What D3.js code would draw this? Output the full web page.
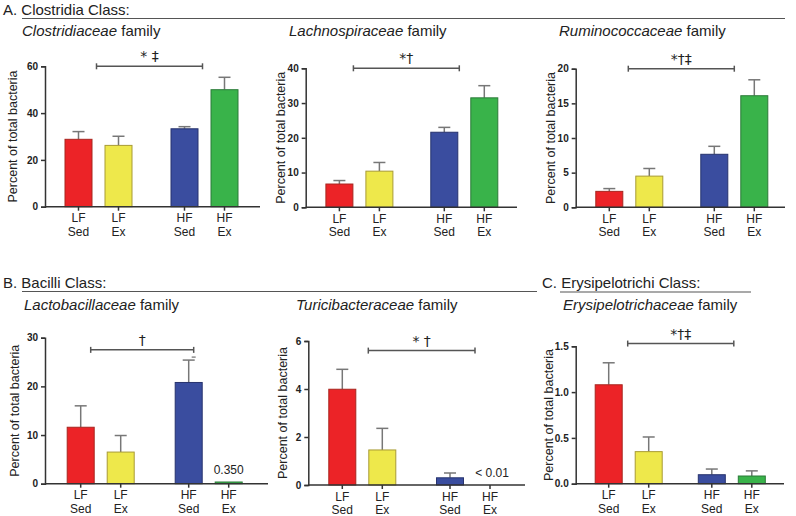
<!DOCTYPE html>
<html>
<head>
<meta charset="utf-8">
<script src="https://d3js.org/d3.v7.min.js"></script>
<style>
  body { margin: 0; background: #fff; }
  text { font-family: "Liberation Sans", Arial, Helvetica, sans-serif; fill: #222; }
</style>
</head>
<body>
<script>
// groups on the x axis
const dietGroups = ["LF", "HF"]
const activityGroups = ["Sed", "Ex"]
const barColors = ["#ec2327", "#eee84b", "#3a4d9f", "#39b34a"]
const barEdges = ["#a8261f", "#a89b35", "#27336e", "#2b7a38"]

// means and SEM, in LF Sed, LF Ex, HF Sed, HF Ex order
const clostridiaceaeMean = [28.8, 26.2, 33.3, 50.0]
const clostridiaceaeSem = [3.3, 3.9, 0.9, 5.3]
const lachnospiraceaeMean = [6.7, 10.4, 21.6, 31.5]
const lachnospiraceaeSem = [1.0, 2.5, 1.4, 3.5]
const ruminococcaceaeMean = [2.3, 4.5, 7.65, 16.1]
const ruminococcaceaeSem = [0.4, 1.1, 1.15, 2.3]
const lactobacillaceaeMean = [11.6, 6.5, 20.8, 0.35]
const lactobacillaceaeSem = [4.4, 3.4, 4.6, 0]
const turicibacteraceaeMean = [3.99, 1.46, 0.30, 0]
const turicibacteraceaeSem = [0.83, 0.9, 0.2, 0]
const erysipelotrichaceaeMean = [1.08, 0.35, 0.098, 0.084]
const erysipelotrichaceaeSem = [0.24, 0.16, 0.062, 0.056]

// y axis ticks
const clostridiaceaeTicks = [0, 20, 40, 60]
const lachnospiraceaeTicks = [0, 10, 20, 30, 40]
const ruminococcaceaeTicks = [0, 5, 10, 15, 20]
const lactobacillaceaeTicks = [0, 10, 20, 30]
const turicibacteraceaeTicks = [0, 2, 4, 6]
const erysipelotrichaceaeTicks = [0, 0.5, 1.0, 1.5]

// significance marks
const sigSymbols = ["* \u2021", "*\u2020", "*\u2020\u2021", "\u2020", "* \u2020", "*\u2020\u2021"]
const sigLevels = [60, 40, 20, 27.5, 5.6, 1.53]

const width = 796, height = 516
const svg = d3.select("body").append("svg")
  .attr("width", width)
  .attr("height", height)

// section headers
const headers = [
  {label: "A. Clostridia Class:", x: 3, y: 15, lineX: [22, 785], lineY: 18.5},
  {label: "B. Bacilli Class:", x: 3, y: 288, lineX: [22, 537], lineY: 291.5},
  {label: "C. Erysipelotrichi Class:", x: 542, y: 288, lineX: [560, 751], lineY: 292}
]
headers.forEach(h => {
  svg.append("text").attr("x", h.x).attr("y", h.y)
    .style("font-size", "15px").text(h.label)
  svg.append("line")
    .attr("x1", h.lineX[0]).attr("x2", h.lineX[1])
    .attr("y1", h.lineY).attr("y2", h.lineY)
    .attr("stroke", "#555").attr("stroke-width", 1.2)
})

const panels = [
  {name: "Clostridiaceae", mean: clostridiaceaeMean, sem: clostridiaceaeSem, ticks: clostridiaceaeTicks,
   x0: 45, xEnd: 260, yTop: 66.3, yBot: 206.7, lf: 98.5, hf: 204.5, tx: 22, ty: 36, labX: -32, sigDx: [-2, -2]},
  {name: "Lachnospiraceae", mean: lachnospiraceaeMean, sem: lachnospiraceaeSem, ticks: lachnospiraceaeTicks,
   x0: 305.7, xEnd: 517, yTop: 68.3, yBot: 207.3, lf: 359.4, hf: 464.3, tx: 289, ty: 36, labX: -25, sigDx: [-6, -5]},
  {name: "Ruminococcaceae", mean: ruminococcaceaeMean, sem: ruminococcaceaeSem, ticks: ruminococcaceaeTicks,
   x0: 575.7, xEnd: 785, yTop: 68.7, yBot: 207.3, lf: 629.3, hf: 734.3, tx: 559, ty: 36, labX: -25, sigDx: [-1, 0]},
  {name: "Lactobacillaceae", mean: lactobacillaceaeMean, sem: lactobacillaceaeSem, ticks: lactobacillaceaeTicks,
   x0: 45, xEnd: 268, yTop: 337.7, yBot: 483.7, lf: 100.7, hf: 208.7, tx: 24, ty: 310, labX: -30, sigDx: [-10, -15]},
  {name: "Turicibacteraceae", mean: turicibacteraceaeMean, sem: turicibacteraceaeSem, ticks: turicibacteraceaeTicks,
   x0: 308.3, xEnd: 525, yTop: 341, yBot: 485, lf: 362.3, hf: 470, tx: 296, ty: 310, labX: -26, sigDx: [6, 5]},
  {name: "Erysipelotrichaceae", mean: erysipelotrichaceaeMean, sem: erysipelotrichaceaeSem, ticks: erysipelotrichaceaeTicks,
   x0: 575.7, xEnd: 784, yTop: 346.3, yBot: 483.7, lf: 628.7, hf: 731.8, tx: 563, ty: 310, labX: -27, sigDx: [-1, 2]}
]

panels.forEach((p, i) => {
  const g = svg.append("g")

  // title
  const t = g.append("text").attr("x", p.tx).attr("y", p.ty).style("font-size", "15px")
  t.append("tspan").style("font-style", "italic").text(p.name)
  t.append("tspan").text(" family")

  const rows = p.mean.map((m, j) => ({
    diet: dietGroups[Math.floor(j / 2)],
    act: activityGroups[j % 2],
    mean: m, sem: p.sem[j], j: j
  }))

  const y = d3.scaleLinear()
    .domain([0, d3.max(p.ticks)])
    .range([p.yBot, p.yTop])
  const outer = d3.scalePoint().domain(dietGroups).range([p.lf, p.hf])
  const inner = d3.scaleBand().domain(activityGroups).range([-33.5, 33.5]).paddingInner(0.325)
  const cx = d => outer(d.diet) + inner(d.act) + inner.bandwidth() / 2

  // error bars (upper whisker only)
  rows.filter(d => d.sem > 0).forEach(d => {
    g.append("line").attr("x1", cx(d)).attr("x2", cx(d))
      .attr("y1", y(d.mean)).attr("y2", y(d.mean + d.sem))
      .attr("stroke", "#777").attr("stroke-width", 1.5)
    g.append("line").attr("x1", cx(d) - 6).attr("x2", cx(d) + 6)
      .attr("y1", y(d.mean + d.sem)).attr("y2", y(d.mean + d.sem))
      .attr("stroke", "#777").attr("stroke-width", 1.5)
  })

  // bars
  g.selectAll("rect.bar").data(rows.filter(d => d.mean > 0)).enter()
    .append("rect").attr("class", "bar")
    .attr("x", d => outer(d.diet) + inner(d.act))
    .attr("width", inner.bandwidth())
    .attr("y", d => y(d.mean))
    .attr("height", d => Math.max(1.5, y(0) - y(d.mean)))
    .attr("fill", d => barColors[d.j])
    .attr("stroke", d => barEdges[d.j])
    .attr("stroke-width", 1)

  // y axis
  const yAxis = d3.axisLeft(y).tickValues(p.ticks).tickSize(4).tickPadding(3)
    .tickFormat(d3.max(p.ticks) < 2 ? d3.format(".1f") : d3.format("d"))
  const ya = g.append("g").attr("transform", `translate(${p.x0},0)`).call(yAxis)
  ya.select(".domain").attr("stroke", "#333").attr("stroke-width", 1.5)
  ya.selectAll(".tick line").attr("stroke", "#333").attr("stroke-width", 1.5)
  ya.selectAll(".tick text").style("font-size", "10px").style("font-weight", "bold")
    .style("font-family", "'Liberation Sans', Arial, sans-serif").attr("fill", "#333")

  // x axis
  g.append("line").attr("x1", p.x0).attr("x2", p.xEnd)
    .attr("y1", p.yBot).attr("y2", p.yBot)
    .attr("stroke", "#333").attr("stroke-width", 1.5)
  rows.forEach(d => {
    g.append("line").attr("x1", cx(d)).attr("x2", cx(d))
      .attr("y1", p.yBot).attr("y2", p.yBot + 4)
      .attr("stroke", "#333").attr("stroke-width", 1.5)
    g.append("text").attr("x", cx(d)).attr("y", p.yBot + 15.5)
      .attr("text-anchor", "middle").style("font-size", "12px").text(d.diet)
    g.append("text").attr("x", cx(d)).attr("y", p.yBot + 29)
      .attr("text-anchor", "middle").style("font-size", "12px").text(d.act)
  })

  // y label
  g.append("text")
    .attr("transform", `translate(${p.x0 + p.labX},${(p.yTop + p.yBot) / 2}) rotate(-90)`)
    .attr("text-anchor", "middle").attr("dy", "0.35em")
    .style("font-size", "12.5px").text("Percent of total bacteria")

  // significance bracket
  const sy = y(sigLevels[i])
  const sx1 = outer("LF") + p.sigDx[0], sx2 = outer("HF") + p.sigDx[1]
  g.append("line").attr("x1", sx1).attr("x2", sx2).attr("y1", sy).attr("y2", sy)
    .attr("stroke", "#555").attr("stroke-width", 1.5)
  ;[sx1, sx2].forEach(sx => {
    g.append("line").attr("x1", sx).attr("x2", sx).attr("y1", sy - 3).attr("y2", sy + 3)
      .attr("stroke", "#555").attr("stroke-width", 1.5)
  })
  g.append("text").attr("x", (sx1 + sx2) / 2).attr("y", sy - 5)
    .attr("text-anchor", "middle")
    .style("font-family", "'DejaVu Sans', sans-serif").style("font-size", "14px")
    .attr("fill", "#333")
    .text(sigSymbols[i])

  // value notes
  if (p.name === "Lactobacillaceae") {
    const d = rows[3]
    g.append("text").attr("x", cx(d)).attr("y", y(d.mean) - 8)
      .attr("text-anchor", "middle").style("font-size", "12px").attr("fill", "#333")
      .text("0.350")
    const b = rows[2]
    g.append("line").attr("x1", cx(b) + 3).attr("x2", cx(b) + 7)
      .attr("y1", y(b.mean + b.sem) - 3).attr("y2", y(b.mean + b.sem) - 3)
      .attr("stroke", "#555").attr("stroke-width", 1)
  }
  if (p.name === "Turicibacteraceae") {
    const d = rows[3]
    g.append("text").attr("x", cx(d) + 2).attr("y", y(0) - 8)
      .attr("text-anchor", "middle").style("font-size", "12px").attr("fill", "#333")
      .text("< 0.01")
  }
})
</script>
</body>
</html>
